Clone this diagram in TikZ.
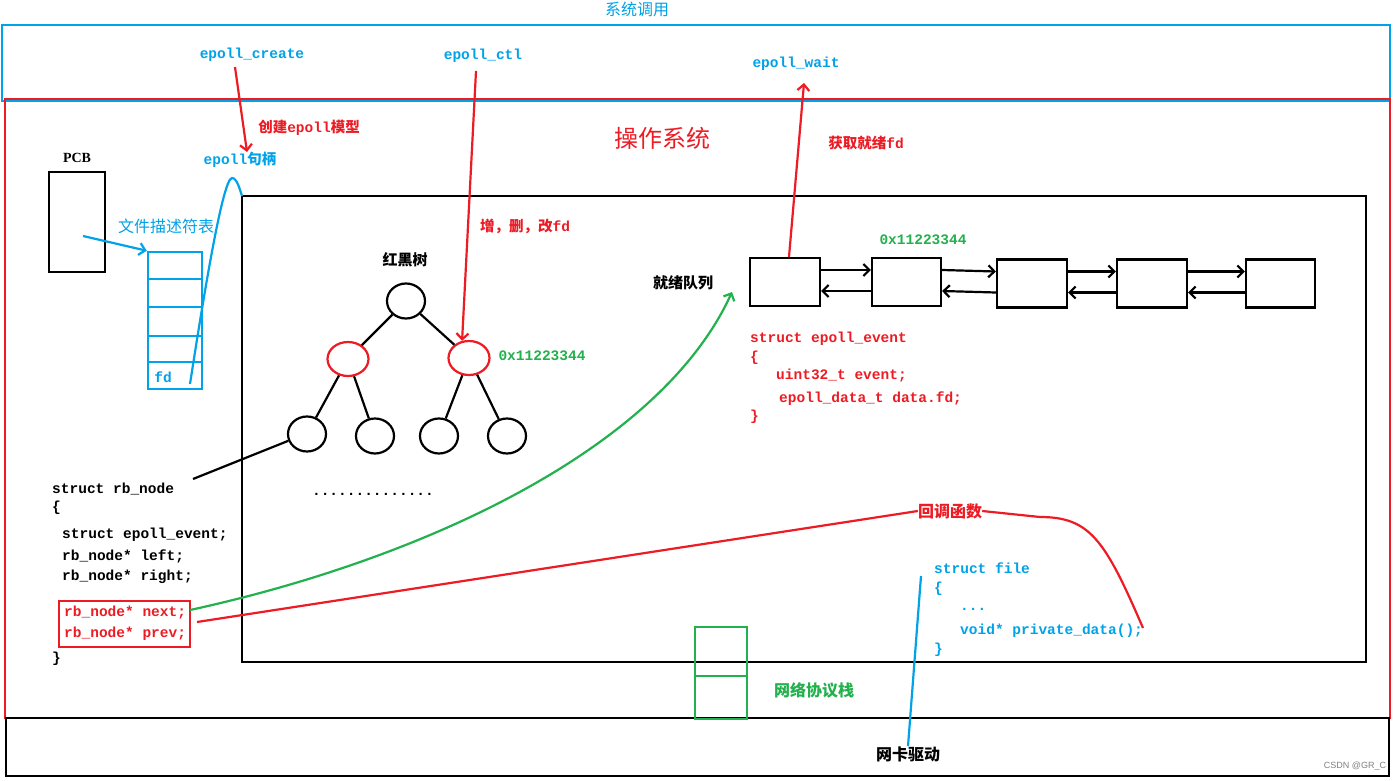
\documentclass[tikz,border=0pt]{standalone}
\usepackage{fontspec}
\setmainfont{Liberation Mono}
\newfontfamily\cjk{Noto Sans CJK SC}
\newfontfamily\serifF{Liberation Serif}
\newfontfamily\sansF{Liberation Sans}
\usetikzlibrary{arrows.meta,shapes.geometric}
\definecolor{pblue}{RGB}{0,162,232}
\definecolor{pred}{RGB}{237,28,36}
\definecolor{pgreen}{RGB}{34,177,76}
\begin{document}
\begin{tikzpicture}[x=1pt,y=-1pt,
  code/.style={anchor=west,inner sep=0pt,font=\fontsize{14.5}{16}\selectfont\bfseries},
  lbl/.style={inner sep=0pt,font=\fontsize{14.5}{16}\selectfont\bfseries},
  cn/.style={inner sep=0pt,font=\fontsize{16}{18}\selectfont\cjk},
  circ/.style={ellipse,draw,line width=2.2pt,minimum width=38pt,minimum height=35pt,inner sep=0pt},
  lbox/.style={draw,line width=2.2pt,minimum width=70pt,minimum height=48pt,inner sep=0pt},
  arr/.style={-{Straight Barb[length=6pt,width=12pt]}},
  wire/.style={line width=2.2pt}
]
\useasboundingbox (0,0) rectangle (1394,781);
\fill[white] (0,0) rectangle (1394,781);

% frames
\draw[pblue,line width=2.5pt] (2,25) rectangle (1390,101);
\draw[pred,line width=2.5pt] (5,99) rectangle (1390,718);
\draw[black,line width=2.5pt] (6,718) rectangle (1389,776);
\draw[black,line width=2.5pt] (242,196) rectangle (1366,662);

% titles
\node[cn,text=pblue] (syscall) at (637,9) {系统调用};
\node[inner sep=0pt,font=\fontsize{24}{26}\selectfont\cjk,text=pred] (os) at (662,138) {操作系统};
\node[lbl,text=pblue] (ecreate) at (252,55) {epoll\_create};
\node[lbl,text=pblue] (ectl) at (483,56) {epoll\_ctl};
\node[lbl,text=pblue] (ewait) at (796,64) {epoll\_wait};

\node[lbl,text=pred] (mkmodel) at (309,128) {{\cjk 创建}epoll{\cjk 模型}};
\node[lbl,text=pblue] (handle) at (240,160) {epoll{\cjk 句柄}};
\node[lbl,text=pred] (getfd) at (866,143) {{\cjk 获取就绪}fd};
\node[lbl,text=pred] (modfd) at (525,226) {{\cjk 增，删，改}fd};

% PCB and fd table
\node[inner sep=0pt,font=\fontsize{14}{16}\selectfont\serifF\bfseries] (pcblbl) at (77,158) {PCB};
\node[draw,line width=2.5pt,minimum width=56pt,minimum height=100pt,inner sep=0pt] (pcb) at (77,222) {};
\node[cn,text=pblue] (fdtlbl) at (166,226) {文件描述符表};
\node[draw=pblue,line width=2.5pt,minimum width=54pt,minimum height=137pt,inner sep=0pt] (fdt) at (175,320.5) {};
\foreach \yy in {279,307,336,362} \draw[pblue,line width=2.5pt] (148,\yy) -- (202,\yy);
\node[lbl,text=pblue] (fdlbl) at (163,377) {fd};
\coordinate (pcbin) at (83,236);
\draw[pblue,line width=2.2pt,arr] (pcbin) -- (fdt.north west);

% epoll handle curve
\coordinate (fdpt) at (190,384);
\coordinate (boxtop) at (242,196);
\draw[pblue,line width=2.2pt] (fdpt) .. controls (200,320) and (222,178) .. (232,178) .. controls (237,178) and (240,190) .. (boxtop);

% arrows from system calls
\coordinate (c1) at (235,67);
\coordinate (c2) at (247,152);
\draw[pred,line width=2.2pt,arr] (c1) -- (c2);

% red-black tree
\node[cn,font=\fontsize{15}{17}\selectfont\cjk\bfseries] (rbt) at (405,260) {红黑树};
\node[circ] (root) at (406,301) {};
\node[circ,draw=pred,minimum width=41pt,minimum height=34pt] (rbL) at (348,359) {};
\node[circ,draw=pred,minimum width=41pt,minimum height=34pt] (rbR) at (469,358) {};
\node[circ] (la) at (307,434) {};
\node[circ] (lb) at (375,436) {};
\node[circ] (lc) at (439,436) {};
\node[circ] (ld) at (507,436) {};
\draw[wire] (root) -- (rbL);
\draw[wire] (root) -- (rbR);
\draw[wire] (rbL) -- (la);
\draw[wire] (rbL) -- (lb);
\draw[wire] (rbR) -- (lc);
\draw[wire] (rbR) -- (ld);
\node[lbl,text=pgreen] (addr1) at (542,356) {0x11223344};
\node[lbl] (dots) at (373,494) {..............};

\coordinate (ctl1) at (476,71);
\draw[pred,line width=2.2pt,arr] (ctl1) -- (rbR.112);

% rb_node struct
\node[code] (rb0) at (52,489) {struct rb\_node};
\node[code] (rb1) at (52,508) {\{};
\node[code] (rb2) at (62,535) {struct epoll\_event;};
\node[code] (rb3) at (62,556) {rb\_node* left;};
\node[code] (rb4) at (62,577) {rb\_node* right;};
\node[code,text=pred] (rb5) at (64,613) {rb\_node* next;};
\node[code,text=pred] (rb6) at (64,634) {rb\_node* prev;};
\node[code] (rb7) at (52,659) {\}};
\draw[pred,line width=2.5pt] (59,601) rectangle (190,647);
\coordinate (rbend) at (193,479);
\draw[wire] (rbend) -- (la.200);

% ready queue
\node[cn,text=black,font=\fontsize{15}{17}\selectfont\cjk\bfseries] (rq) at (683,283) {就绪队列};
\node[lbl,text=pgreen] (addr2) at (923,240) {0x11223344};
\node[lbox] (b1) at (785,282) {};
\node[lbox,minimum width=69pt] (b2) at (906.5,282) {};
\node[lbox] (b3) at (1032,283.5) {};
\node[lbox] (b4) at (1152,283.5) {};
\node[lbox,minimum width=69pt] (b5) at (1280.5,283.5) {};
\foreach \a/\b in {b1/b2,b2/b3,b3/b4,b4/b5}{
  \draw[wire,arr] ([yshift=12pt]\a.east) -- ([yshift=12pt]\b.west);
  \draw[wire,arr] ([yshift=-9pt]\b.west) -- ([yshift=-9pt]\a.east);
}
\coordinate (w1) at (804,83);
\draw[pred,line width=2.2pt,arr] ([xshift=4pt]b1.north) -- (w1);

% epoll_event struct
\node[code,text=pred] (ev0) at (750,339) {struct epoll\_event};
\node[code,text=pred] (ev1) at (750,358) {\{};
\node[code,text=pred] (ev2) at (776,376) {uint32\_t event;};
\node[code,text=pred] (ev3) at (779,399) {epoll\_data\_t data.fd;};
\node[code,text=pred] (ev4) at (750,417) {\}};

% green curve
\coordinate (nextpt) at (190,610);
\coordinate (rqpt) at (732,292);
\draw[pgreen,line width=2.2pt,arr] (nextpt) .. controls (420,560) and (660,450) .. (rqpt);

% callback
\node[cn,text=pred,font=\fontsize{16}{18}\selectfont\cjk\bfseries] (cb) at (950,511) {回调函数};
\coordinate (prevpt) at (197,622);
\coordinate (privpt) at (1143,628);
\draw[pred,line width=2.2pt] (prevpt) -- (cb.west);
\draw[pred,line width=2.2pt] (cb.east) -- (1040,517) .. controls (1090,517) and (1105,540) .. (privpt);

% struct file
\node[code,text=pblue] (sf0) at (934,568) {struct file};
\node[code,text=pblue] (sf1) at (934,589) {\{};
\node[code,text=pblue] (sf2) at (960,609) {...};
\node[code,text=pblue] (sf3) at (960,631) {void* private\_data();};
\node[code,text=pblue] (sf4) at (934,650) {\}};

% network stack and NIC driver
\node[draw=pgreen,line width=2.5pt,minimum width=52pt,minimum height=92pt,inner sep=0pt] (stack) at (721,673) {};
\draw[pgreen,line width=2.5pt] (695,676) -- (747,676);
\node[cn,text=pgreen,font=\fontsize{16}{18}\selectfont\cjk\bfseries] (stacklbl) at (814,690) {网络协议栈};
\node[cn,text=black,font=\fontsize{16}{18}\selectfont\cjk\bfseries] (nic) at (908,754) {网卡驱动};
\coordinate (sfpt) at (921,576);
\draw[pblue,line width=2.2pt] (sfpt) -- (nic.north);

\node[inner sep=0pt,font=\fontsize{9}{10}\selectfont\sansF,text=gray] (wm) at (1355,766) {CSDN @GR\_C};
\end{tikzpicture}
\end{document}
